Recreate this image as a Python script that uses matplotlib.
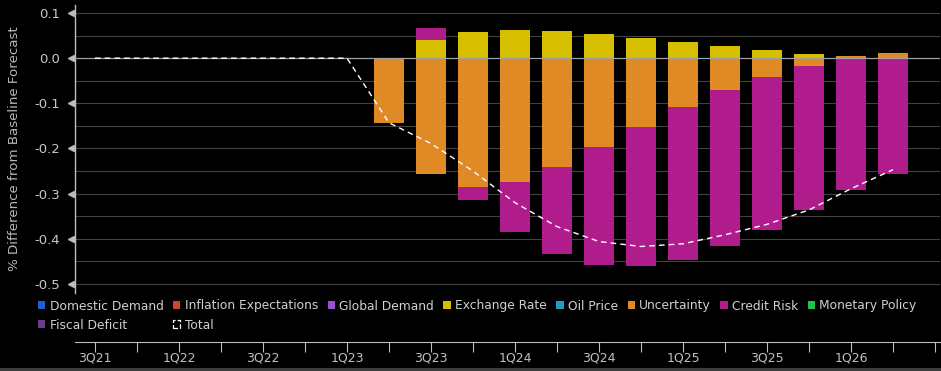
import matplotlib
matplotlib.use("Agg")
import matplotlib.pyplot as plt
from matplotlib.patches import Patch, Rectangle
import numpy as np

plt.rcParams['font.family'] = ['DejaVu Sans']

# ---------------- data ----------------
quarters = ['3Q21', '4Q21', '1Q22', '2Q22', '3Q22', '4Q22', '1Q23', '2Q23', '3Q23',
            '4Q23', '1Q24', '2Q24', '3Q24', '4Q24', '1Q25', '2Q25', '3Q25', '4Q25',
            '1Q26', '2Q26', '3Q26']
bar_quarters = ['2Q23', '3Q23', '4Q23', '1Q24', '2Q24', '3Q24', '4Q24', '1Q25',
                '2Q25', '3Q25', '4Q25', '1Q26', '2Q26']

domestic_demand = [0.0] * 13
inflation_expectations = [0.0] * 13
global_demand = [0.0] * 13
exchange_rate = [0.0, 0.041, 0.057, 0.062, 0.060, 0.053, 0.044, 0.036, 0.027, 0.018, 0.009, 0.001, 0.0]
oil_price = [0.0] * 13
uncertainty = [-0.144, -0.256, -0.286, -0.275, -0.241, -0.197, -0.153, -0.108, -0.070, -0.042, -0.018, 0.003, 0.011]
credit_risk = [0.0, 0.026, -0.027, -0.109, -0.192, -0.262, -0.308, -0.338, -0.347, -0.339, -0.319, -0.291, -0.257]
monetary_policy = [0.0] * 13
fiscal_deficit = [0.0] * 13

total_quarters = quarters[:20]
total = [0.0, 0.0, 0.0, 0.0, 0.0, 0.0, 0.0, -0.143, -0.189, -0.250, -0.320, -0.373,
         -0.406, -0.417, -0.411, -0.391, -0.368, -0.336, -0.289, -0.247]

series_names = ['Domestic Demand', 'Inflation Expectations', 'Global Demand', 'Exchange Rate',
                'Oil Price', 'Uncertainty', 'Credit Risk', 'Monetary Policy', 'Fiscal Deficit']
series_values = [domestic_demand, inflation_expectations, global_demand, exchange_rate,
                 oil_price, uncertainty, credit_risk, monetary_policy, fiscal_deficit]
series_colors = ['#1f5fd0', '#d0452a', '#9a52d2', '#d6bf00', '#1aa3b8', '#e08a26',
                 '#b01c8c', '#22c046', '#6a3d8c']

y_ticks = [0.1, 0.0, -0.1, -0.2, -0.3, -0.4, -0.5]
# --------------------------------------

W, H = 941, 371
fig = plt.figure(figsize=(W / 100, H / 100), dpi=100, facecolor='black')

ax_l, ax_r, ax_t, ax_b = 75, 940, 5, 293
ax = fig.add_axes([ax_l / W, 1 - ax_b / H, (ax_r - ax_l) / W, (ax_b - ax_t) / H])
ax.set_facecolor('black')

qidx = {q: i for i, q in enumerate(quarters)}
bx = np.array([qidx[q] for q in bar_quarters], dtype=float)
tx = np.array([qidx[q] for q in total_quarters], dtype=float)

# grid lines
for yv in np.arange(-0.5, 0.1001, 0.05):
    if abs(yv) < 1e-9:
        continue
    ax.axhline(yv, color='#424242', lw=0.8, zorder=0)

pos_base = np.zeros(len(bx))
neg_base = np.zeros(len(bx))
for vals, col in zip(series_values, series_colors):
    v = np.array(vals, dtype=float)
    pos = np.where(v > 0, v, 0)
    neg = np.where(v < 0, v, 0)
    ax.bar(bx, pos, bottom=pos_base, width=0.71, color=col, linewidth=0, zorder=2)
    ax.bar(bx, neg, bottom=neg_base, width=0.71, color=col, linewidth=0, zorder=2)
    pos_base += pos
    neg_base += neg

ax.axhline(0, color='#a0a0a0', lw=0.9, zorder=3)
ax.plot(tx, total, color='white', lw=1.0, ls=(0, (4, 3)), zorder=4)

# y axis
ax.set_ylim(-0.5 - 9 / 450, 0.1 + 8 / 450)
ax.set_xlim(-20 / 42, (ax_r - 95) / 42)
for s in ['top', 'right', 'bottom']:
    ax.spines[s].set_visible(False)
ax.spines['left'].set_color('#bdbdbd')
ax.spines['left'].set_linewidth(1.0)
ax.set_xticks([])
ax.set_yticks(y_ticks)
ax.set_yticklabels([f'{v:.1f}' for v in y_ticks])
ax.tick_params(axis='y', length=0, pad=11, labelsize=9.5, labelcolor='#c8c8c8')
ax.plot([-4.5 / (ax_r - ax_l)] * len(y_ticks), y_ticks, marker='<', ms=5, ls='none',
        color='#bdbdbd', transform=ax.get_yaxis_transform(), clip_on=False, zorder=5)
ax.set_ylabel('% Difference from Baseline Forecast', color='#b8b8b8', fontsize=9.6, labelpad=9)

# bottom time axis
bax = fig.add_axes([ax_l / W, 1 - 342 / H, (W - ax_l) / W, 0.001])
bax.set_facecolor('none')
bax.set_xlim(-20 / 42, (W - 95) / 42)
bax.set_ylim(0, 1)
for s in ['top', 'right', 'left']:
    bax.spines[s].set_visible(False)
bax.spines['bottom'].set_color('#bdbdbd')
bax.set_yticks([])
bax.set_xticks(range(len(quarters)))
bax.set_xticklabels([q if i % 2 == 0 and i < 19 else '' for i, q in enumerate(quarters)])
bax.tick_params(axis='x', length=7, width=0.8, color='#bdbdbd', labelcolor='#c0c0c0',
                labelsize=9, pad=0)

# gray strip at bottom
fig.patches.append(Rectangle((0, 0), 1, 3 / H, transform=fig.transFigure,
                             facecolor='#3c3c3c', edgecolor='none'))

# legend
handles = {n: Patch(facecolor=c, edgecolor='none') for n, c in zip(series_names, series_colors)}
total_handle = Patch(facecolor='none', edgecolor='white', linestyle='--', linewidth=0.9)
order = ['Domestic Demand', 'Fiscal Deficit', 'Inflation Expectations', 'Total',
         'Global Demand', 'Exchange Rate', 'Oil Price', 'Uncertainty', 'Credit Risk',
         'Monetary Policy']
hl = [total_handle if n == 'Total' else handles[n] for n in order]
leg = fig.legend(hl, order, ncol=8, loc='upper left', bbox_to_anchor=(38 / W, 1 - 299.5 / H),
                 frameon=False, fontsize=8.8, labelcolor='#d0d0d0', handlelength=0.6,
                 handleheight=0.6, handletextpad=0.35, columnspacing=0.78, labelspacing=0.5,
                 borderpad=0, borderaxespad=0)

fig.savefig('out.png', dpi=100, facecolor='black')
